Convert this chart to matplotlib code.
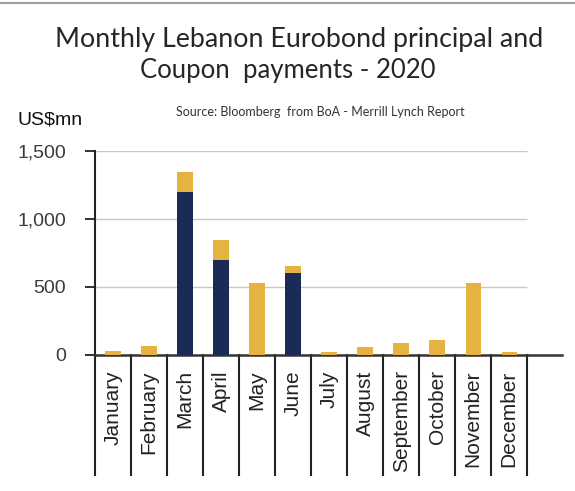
import matplotlib.pyplot as plt
from matplotlib.transforms import blended_transform_factory

months = ["January", "February", "March", "April", "May", "June", "July",
          "August", "September", "October", "November", "December"]
principal = [0, 0, 1200, 700, 0, 600, 0, 0, 0, 0, 0, 0]
coupon = [30, 65, 145, 145, 530, 50, 20, 60, 90, 110, 530, 20]
yticks = [0, 500, 1000, 1500]
ytick_labels = ["0", "500", "1,000", "1,500"]

navy = "#1b2b58"
gold = "#e5b440"

fig = plt.figure(figsize=(5.75, 4.91), dpi=100)
ax = fig.add_axes([0.1652, 0.277, 0.8122, 0.416])

x = list(range(len(months)))
ax.bar(x, principal, width=0.42, color=navy, zorder=3)
ax.bar(x, coupon, width=0.42, bottom=principal, color=gold, zorder=3)

ax.set_xlim(-0.5, 12.47)
ax.set_ylim(0, 1500)
ax.set_yticks(yticks)
ax.set_yticklabels(ytick_labels, fontsize=14, family="Liberation Sans", color="#3a3a3a")
ax.tick_params(axis="y", length=7, width=1.3, pad=14, color="#222222")
ax.set_xticks([])

# horizontal gridlines only across the months
ax.hlines([500, 1000, 1500], -0.5, 11.5, color="#c8c8c8", lw=1, zorder=1)

for s in ["top", "right"]:
    ax.spines[s].set_visible(False)
ax.spines["left"].set_linewidth(1.5)
ax.spines["left"].set_color("#222222")
ax.spines["bottom"].set_linewidth(1.8)
ax.spines["bottom"].set_color("#333333")

# category separators extending down below the axis
tr = blended_transform_factory(ax.transData, ax.transAxes)
for i in range(len(months) + 1):
    ax.plot([i - 0.5, i - 0.5], [0, -0.587], color="#222222", lw=1.5,
            transform=tr, clip_on=False)
for i, m in enumerate(months):
    ax.text(i, -0.075, m, rotation=90, ha="center", va="top", fontsize=15,
            family="Liberation Sans", color="#222222", transform=tr)

fig.text(0.52, 0.92, "Monthly Lebanon Eurobond principal and", ha="center",
         va="center", fontsize=19.3, family="Lato", color="#262626")
fig.text(0.5, 0.857, "Coupon  payments - 2020", ha="center", va="center",
         fontsize=18.5, family="Lato", color="#262626")
fig.text(0.557, 0.772, "Source: Bloomberg  from BoA - Merrill Lynch Report",
         ha="center", va="center", fontsize=9, family="Lato", color="#333333")
fig.text(0.031, 0.756, "US$mn", ha="left", va="center", fontsize=14,
         family="Liberation Sans", color="#111111")

# thin border line at the top of the image
fig.add_artist(plt.Line2D([0, 1], [0.993, 0.993], color="#a0a0a0", lw=1.5,
                          transform=fig.transFigure))

fig.savefig("out.png", dpi=100)
